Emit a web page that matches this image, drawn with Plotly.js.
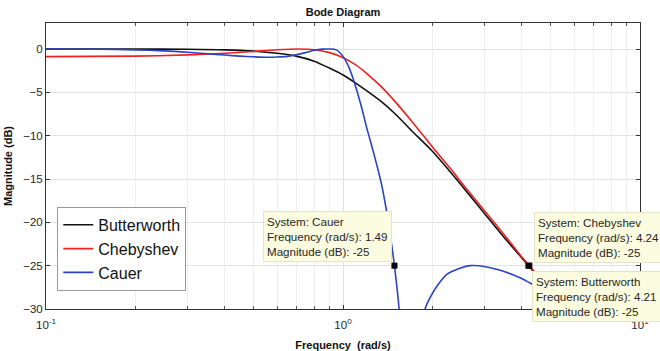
<!DOCTYPE html>
<html>
<head>
<meta charset="utf-8">
<script src="https://cdn.plot.ly/plotly-3.0.1.min.js"></script>
<style>
  html, body { margin: 0; padding: 0; background: #ffffff; }
  #chart { width: 660px; height: 351px; }
</style>
</head>
<body>
<div id="chart"></div>
<script>
// ---- Data ----
const seriesNames = ["Butterworth", "Chebyshev", "Cauer"];

const butterFreq = [0.1, 0.2, 0.3, 0.4, 0.5, 0.6, 0.7, 0.8, 0.9, 1.0, 1.1, 1.2, 1.35, 1.5, 1.7, 2.0, 2.3, 2.6, 3.0, 3.5, 4.0, 4.21, 4.6];
const butterMag  = [0, -0.01, -0.03, -0.1, -0.25, -0.5, -0.85, -1.4, -2.2, -3.0, -3.9, -4.8, -6.1, -7.5, -9.4, -11.8, -14.2, -16.4, -19.0, -21.8, -24.1, -25.0, -26.5];

const chebyFreq = [0.1, 0.2, 0.3, 0.4, 0.5, 0.6, 0.707, 0.8, 0.9, 1.0, 1.1, 1.2, 1.35, 1.5, 1.7, 2.0, 2.3, 2.6, 3.0, 3.5, 4.0, 4.24, 4.6];
const chebyMag  = [-0.88, -0.82, -0.68, -0.5, -0.28, -0.09, 0, -0.09, -0.42, -1.0, -1.8, -2.8, -4.4, -6.1, -8.3, -11.3, -13.8, -16.1, -18.7, -21.5, -24.0, -25.0, -26.4];

const cauerFreq = [0.1, 0.15, 0.2, 0.25, 0.3, 0.35, 0.4, 0.45, 0.5, 0.55, 0.6, 0.65, 0.7, 0.75, 0.8, 0.85, 0.9, 0.95, 1.0, 1.05, 1.1, 1.15, 1.2, 1.25, 1.3, 1.35, 1.4, 1.45, 1.49, 1.545, 1.6, 1.7, 1.8, 1.86, 1.89, 1.964, 2.068, 2.236, 2.477, 2.68, 3.047, 3.465, 3.945, 4.263, 4.6];
const cauerMag  = [0, -0.03, -0.1, -0.22, -0.38, -0.55, -0.7, -0.82, -0.9, -0.95, -0.93, -0.85, -0.65, -0.4, -0.15, -0.02, 0, -0.1, -0.85, -2.2, -4.2, -6.5, -9.0, -11.2, -13.4, -15.7, -18.6, -22.0, -25.0, -30.0, -37, -55, -38, -32, -30.0, -28.7, -27.4, -26.0, -25.3, -25.0, -25.15, -25.65, -26.4, -27.0, -27.6];

// data tips
const tipSystems = ["Cauer", "Chebyshev", "Butterworth"];
const tipFreq = [1.49, 4.24, 4.21];
const tipMag  = [-25, -25, -25];

const xTickVals = [0.1, 1, 10];
const xTickText = ["10<sup>-1</sup>", "10<sup>0</sup>", "10<sup>1</sup>"];
const yTickVals = [0, -5, -10, -15, -20, -25, -30];

// ---- Chart ----
const FONT = "Liberation Sans, Arial, Helvetica, sans-serif";
const colors = ["#111111", "#f02020", "#2a44c4"];

const traces = [
  {x: butterFreq, y: butterMag, name: seriesNames[0]},
  {x: chebyFreq, y: chebyMag, name: seriesNames[1]},
  {x: cauerFreq, y: cauerMag, name: seriesNames[2]}
].map((t, i) => Object.assign(t, {
  type: "scatter", mode: "lines",
  line: {color: colors[i], width: 1.6, shape: "spline", smoothing: 0.8},
  hoverinfo: "skip"
}));

traces.push({
  type: "scatter", mode: "markers", x: tipFreq, y: tipMag, showlegend: false,
  marker: {symbol: "square", size: 6, color: "#000000"}, hoverinfo: "skip"
});

// datatip boxes (positions in paper coordinates)
const tipPos = [
  {x: 0.365, y: 0.342},
  {x: 0.821, y: 0.340},
  {x: 0.819, y: 0.132}
];
const annotations = tipSystems.map((s, i) => ({
  xref: "paper", yref: "paper", x: tipPos[i].x, y: tipPos[i].y,
  xanchor: "left", yanchor: "top", align: "left", showarrow: false,
  text: "System: " + s + "<br>Frequency (rad/s): " + tipFreq[i].toFixed(2) +
        "<br>Magnitude (dB): " + tipMag[i],
  font: {family: FONT, size: 11.6, color: "#262626"},
  bgcolor: "#fcfce0", bordercolor: "#e4e4cc", borderwidth: 1, borderpad: 3
}));

const layout = {
  width: 660, height: 351,
  margin: {l: 46, r: 20, t: 23, b: 42, pad: 0},
  paper_bgcolor: "#ffffff", plot_bgcolor: "#ffffff",
  font: {family: FONT, size: 11, color: "#262626"},
  title: {text: "<b>Bode Diagram</b>", x: 0.5, xref: "paper", y: 0.965, yanchor: "middle",
          font: {family: FONT, size: 11, color: "#111111"}},
  showlegend: true,
  legend: {x: 0.019, y: 0.357, xanchor: "left", yanchor: "top",
           bgcolor: "#ffffff", bordercolor: "#9a9a9a", borderwidth: 1,
           font: {family: FONT, size: 16, color: "#111111"},
           itemwidth: 30, tracegroupgap: 0},
  xaxis: {
    type: "log", range: [-1, 1],
    tickvals: xTickVals, ticktext: xTickText,
    ticks: "inside", ticklen: 4, tickcolor: "#333333",
    ticklabelstandoff: 5,
    showline: true, linecolor: "#333333", linewidth: 1, mirror: "ticks",
    showgrid: true, gridcolor: "#e2e2e2", gridwidth: 1,
    minor: {dtick: "D1", showgrid: true, gridcolor: "#efefef", ticks: "inside", ticklen: 3, tickcolor: "#555555"},
    zeroline: false,
    tickfont: {family: FONT, size: 11.5, color: "#262626"},
    title: {text: "<b>Frequency  (rad/s)</b>", standoff: 12, font: {family: FONT, size: 11, color: "#111111"}}
  },
  yaxis: {
    range: [-30, 3],
    tickvals: yTickVals,
    ticks: "inside", ticklen: 4, tickcolor: "#333333",
    showline: true, linecolor: "#333333", linewidth: 1, mirror: "ticks",
    showgrid: true, gridcolor: "#e2e2e2", gridwidth: 1,
    zeroline: false,
    tickfont: {family: FONT, size: 11.5, color: "#262626"},
    title: {text: "<b>Magnitude (dB)</b>", standoff: 8, font: {family: FONT, size: 11, color: "#111111"}}
  },
  annotations: annotations
};

Plotly.newPlot("chart", traces, layout, {staticPlot: true, displayModeBar: false});
</script>
</body>
</html>
